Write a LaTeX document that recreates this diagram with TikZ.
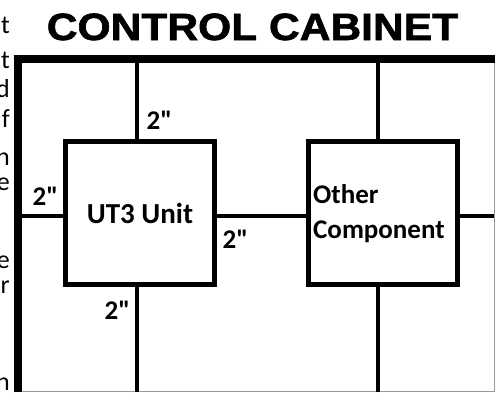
\documentclass[tikz,border=0pt]{standalone}
\usepackage{fontspec}
\setmainfont{Carlito}
\newfontfamily\calfont{Carlito}
\newfontfamily\headfont{Liberation Sans}[BoldFeatures={FakeBold=1.5}]
\usetikzlibrary{positioning,calc}

\begin{document}
\begin{tikzpicture}[x=1pt,y=-1pt,
  unit/.style={draw,line width=5pt,minimum width=149pt,minimum height=143pt,inner sep=0pt},
  wire/.style={line width=3.5pt},
  gap/.style={inner sep=0pt,font=\calfont\bfseries\fontsize{27}{32}\selectfont},
  frag/.style={anchor=base east,inner sep=0pt,font=\fontsize{26}{31}\selectfont}]
\useasboundingbox (0,0) rectangle (495,392);
% cut-off text on the left
\foreach \ch/\yy in {t/33,t/68,d/97,f/127,n/165,e/190,e/268,r/293,n/390}
  \node[frag] (frag\yy) at (10,\yy) {\ch};
\node[anchor=base,inner sep=0pt,xscale=1.12,font=\headfont\bfseries\fontsize{38}{40}\selectfont] (title) at (252.5,40) {CONTROL CABINET};
% cabinet walls
\draw[line width=8pt] (18,392) -- (18,59) -- (495,59);
\draw[black!40,line width=1pt] (494,63) -- (494,391.5) -- (22,391.5);
\coordinate (topA) at (137,59);
\coordinate (botA) at (137,392);
\coordinate (topB) at (378,59);
\coordinate (botB) at (378,392);
\coordinate (wallL) at (18,216);
\coordinate (wallR) at (494,216);
% components
\node[unit,font=\bfseries\fontsize{29}{35}\selectfont] (ut3) at (140,213) {UT3 Unit};
\node[unit] (other) at (382.5,213) {};
\node[anchor=west,align=left,inner sep=0pt,font=\bfseries\fontsize{27}{35}\selectfont] (otherlbl) at (313,214) {Other\\Component};
% clearances
\draw[wire] (topA) -- (topA |- ut3.north);
\draw[wire] (botA) -- (botA |- ut3.south);
\draw[wire] (wallL) -- (wallL -| ut3.west);
\draw[wire] (ut3.east |- wallL) -- (other.west |- wallL);
\draw[wire] (other.east |- wallR) -- (wallR);
\draw[wire] (topB) -- (topB |- other.north);
\draw[wire,line width=4.5pt] (botB) -- (botB |- other.south);
\node[gap] (gtop) at (159.5,120) {2"};
\node[gap] (gleft) at (45.5,196) {2"};
\node[gap] (gright) at (235.5,239) {2"};
\node[gap] (gbot) at (117.5,310) {2"};
\end{tikzpicture}
\end{document}
